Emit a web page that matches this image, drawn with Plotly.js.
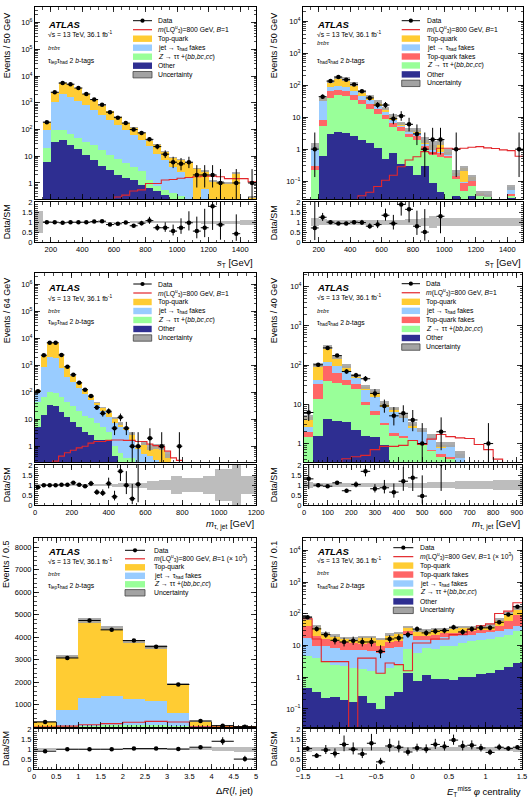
<!DOCTYPE html>
<html><head><meta charset="utf-8">
<script src="https://cdn.plot.ly/plotly-3.0.1.min.js"></script>
<style>html,body{margin:0;padding:0;background:#fff}#chart{width:530px;height:804px}</style>
</head><body><div id="chart"></div>
<script>
// ================= DATA =================
// Panel 1: s_T, tau_lep tau_had, 2 b-tags. Bins of 50 GeV from 100 to 1500.
const p1_binLo = 100, p1_binW = 50;
const p1_data  = [0, 190, 2500, 5500, 5000, 3600, 2150, 1330, 850, 450, 280, 175, 100, 75, 43, 23, 12, 6, 5.2, 6, 2, 2, 2, 1, 0, 1, 0, 1];
const p1_other = [0, 6, 35, 40, 26, 18, 11, 7, 4.4, 3.1, 2, 1.5, 1.25, 0.85, 0.65, 0.5, 0.37, 0, 0, 0, 0, 0, 0, 0, 0, 0, 0, 0];
const p1_ztt   = [0, 21, 100, 100, 71, 50, 35, 26, 17, 11, 7.7, 5.5, 3.9, 2.7, 1.3, 0.8, 0.57, 0.43, 0.32, 0, 0, 0, 0, 0, 0, 0, 0, 0];
const p1_jet   = [0, 100, 1050, 2150, 1700, 1150, 800, 520, 340, 220, 145, 95, 62, 40, 24, 12, 7, 4, 2.5, 1.5, 0, 0.6, 0, 0, 0, 0, 0, 0];
const p1_top   = [0, 190, 2500, 5700, 5000, 3600, 2150, 1300, 820, 500, 300, 178, 120, 78, 40, 28, 15, 9, 7.5, 6, 3.5, 2.8, 1.2, 1.1, 1.0, 2.4, 0, 0.3];
const p1_sig   = [0, 0, 0, 0, 0, 0, 0, 0, 0, 0, 0.3, 0.35, 0.5, 0.55, 0.95, 0.95, 1.3, 1.35, 1.5, 1.6, 1.7, 1.8, 1.8, 1.7, 1.45, 1.45, 1.45, 1.1];
const p1_ratio = [null, 1.0, 1.0, 0.97, 1.0, 1.0, 1.0, 1.03, 1.05, 0.88, 0.92, 0.98, 0.82, 0.95, 1.08, 0.72, 0.72, 0.55, 0.72, 0.97, 0.55, 0.72, 1.8, 0.87, null, 0.42, null, null];
const p1_unc   = [0.55, 0.04, 0.03, 0.03, 0.03, 0.03, 0.03, 0.03, 0.03, 0.03, 0.03, 0.03, 0.04, 0.04, 0.04, 0.05, 0.06, 0.06, 0.06, 0.06, 0.06, 0.07, 0.07, 0.07, 0.07, 0.08, 0.12, 0.12];

// Panel 2: s_T, tau_had tau_had, 2 b-tags. Bins of 50 GeV from 100 to 1500.
const p2_binLo = 100, p2_binW = 50;
const p2_data    = [0, 1, 44, 135, 180, 150, 105, 65, 40, 24, 24, 9, 11, 6, 3, 1, 2, 2, 0, 1, 0, 0, 0, 0, 0, 0, 0, 1];
const p2_other   = [0, 0, 0.6, 3.0, 3.4, 3.2, 2.5, 2.0, 1.6, 1.1, 0.5, 0.75, 0.35, 0.3, 0.15, 0.3, 0.09, 0.045, 0, 0.035, 0, 0.035, 0, 0, 0, 0, 0.03, 0];
const p2_ztt     = [0, 0.22, 5.2, 38.7, 50.6, 47, 35, 25.5, 18.6, 12.3, 8.5, 5.0, 3.8, 2.4, 1.98, 0.91, 0.66, 0.58, 0.52, 0.12, 0.05, 0.07, 0.035, 0.035, 0, 0, 0.035, 0];
const p2_topfake = [0, 0.30, 8.1, 66, 71, 67.7, 49.3, 35, 25.5, 17.7, 12, 6.5, 4.8, 3.0, 2.65, 1.28, 0.84, 0.75, 0.61, 0.14, 0.09, 0.1, 0.04, 0.038, 0, 0, 0.04, 0];
const p2_jet     = [0, 1.28, 32.6, 88.5, 97.6, 90.7, 67.7, 47, 35, 22.6, 15, 8, 5.2, 3.4, 3.2, 1.48, 0.91, 0.84, 0.71, 0.16, 0.095, 0.11, 0.04, 0.04, 0, 0, 0.065, 0];
const p2_top     = [0, 1.28, 38.7, 131, 175, 159, 110, 64, 44.7, 30.3, 19, 11, 6.5, 4.0, 3.9, 1.98, 1.37, 1.63, 0.84, 0.18, 0.25, 0.13, 0.042, 0.04, 0, 0, 0.065, 0];
const p2_sig     = [0, 0, 0, 0, 0, 0, 0, 0.035, 0.045, 0.068, 0.106, 0.153, 0.28, 0.46, 0.58, 0.84, 0.75, 1.07, 1.07, 1.0, 1.07, 1.15, 1.2, 1.1, 1.05, 0.95, 0.9, 0.6];
const p2_ratio   = [null, 0.71, 1.25, 1.0, 0.94, 0.94, 1.0, 0.98, 0.8, 0.88, 1.35, 0.94, 1.9, 1.65, 0.8, 0.5, null, 1.3, null, null, null, null, null, null, null, null, null, null];
const p2_unc     = [0, 0.2, 0.14, 0.12, 0.12, 0.12, 0.12, 0.12, 0.12, 0.13, 0.13, 0.13, 0.13, 0.14, 0.14, 0.2, 0.3, 0.2, 0.2, 0.2, 0.2, 0.2, 0.2, 0.2, 0.2, 0.2, 0.2, 0.2];

// Panel 3: m_tau,jet, tau_lep tau_had. Bins of 32 GeV from 0 to 800.
const p3_binLo = 0, p3_binW = 32;
const p3_data  = [110, 2400, 6900, 6900, 2450, 890, 455, 225, 125, 73, 27.5, 16.6, 20, 4.7, 11.8, 4.7, 1, 1, 0, 2, 0, 1, 0, 0, 1];
const p3_other = [5, 14, 33, 31, 19, 12, 8.2, 5.4, 3.5, 2.7, 1.75, 1.66, 1.5, 0.43, 0, 0, 0, 0, 0, 0, 0, 0, 0, 0, 0];
const p3_ztt   = [44, 68, 103, 95, 68, 44, 31, 21, 13, 11, 7.1, 5.1, 3.5, 1.0, 0.57, 0.37, 0.37, 0, 0, 0, 0, 0, 0, 0, 0];
const p3_jet   = [103, 890, 1970, 1850, 800, 385, 240, 148, 89, 54, 33, 20, 12.5, 7.5, 5.4, 4.1, 1.5, 0.8, 0.5, 0.45, 0.3, 0, 0, 0, 0];
const p3_top   = [120, 2400, 6900, 6900, 2450, 890, 415, 225, 130, 68, 42, 27, 18.5, 11, 7, 4.7, 3.1, 1.0, 1.3, 0.9, 1.0, 1.0, 0.5, 0, 0];
const p3_sig   = [0, 0, 0, 0.28, 0.43, 0.57, 0.71, 0.87, 1.0, 1.3, 1.5, 1.5, 1.65, 1.7, 1.7, 1.65, 1.65, 1.5, 1.5, 1.2, 1.05, 0.95, 0.66, 0.37, 0.3];
const p3_ratio = [0.9, 1.0, 1.0, 1.0, 1.02, 1.02, 1.12, 1.02, 0.95, 1.08, 0.65, 0.6, 1.08, 0.42, 1.7, 1.0, 0.32, 1.05, null, null, null, null, null, null, null];
const p3_unc   = [0.06, 0.04, 0.04, 0.04, 0.04, 0.04, 0.04, 0.05, 0.05, 0.05, 0.05, 0.05, 0.06, 0.08, 0.1, 0.1, 0.12, 0.12, 0.12, 0.22, 0.22, 0.25, 0.25, 0.45, 0.45];
const p3_bandEdges = [0, 416, 448, 480, 512, 544, 576, 608, 672, 736, 800, 912, 976, 1072, 1120, 1200];
const p3_bandHalf  = [0.05, 0.08, 0.1, 0.1, 0.12, 0.12, 0.12, 0.22, 0.25, 0.45, 0.35, 0.45, 0.8, 1.0, 0.45];

// Panel 4: m_tau,jet, tau_had tau_had. Bins of 40 GeV from 0 to 920.
const p4_binLo = 0, p4_binW = 40;
const p4_data    = [6.2, 102, 275, 175, 69, 55, 45, 19, 9.1, 5.1, 5.9, 4.0, 1, 0, 2.0, 0, 0, 0, 0, 1, 0, 0, 0];
const p4_other   = [0, 1.53, 4.3, 3.8, 3.45, 2.25, 1.53, 1.45, 0.94, 0, 0, 0, 0, 0, 0, 0, 0, 0, 0, 0, 0, 0, 0];
const p4_ztt     = [1.5, 14, 40, 36, 32, 24, 9.5, 5.5, 2.9, 1.6, 1.35, 1.15, 0.95, 0.65, 0.45, 0.4, 0, 0, 0, 0, 0, 0, 0];
const p4_topfake = [2.0, 34, 93, 63, 43, 33, 11.7, 6.9, 3.3, 1.86, 1.53, 1.26, 1.04, 0.7, 0.55, 0.45, 0, 0, 0, 0, 0, 0, 0];
const p4_jet     = [2.7, 43, 120, 93, 66, 47, 23.9, 15, 8.7, 6.5, 4.4, 2.5, 2.25, 1.5, 0.78, 0.94, 0.53, 0, 0, 0, 0, 0, 0];
const p4_top     = [4.7, 102, 290, 158, 95, 54, 27.9, 22, 10.8, 7.9, 5.1, 3.2, 2.25, 1.5, 0.94, 0.94, 0.53, 0, 0, 0, 0, 0, 0];
const p4_sig     = [0, 0, 0, 0, 0.41, 0.46, 0.5, 0.7, 0.85, 0.85, 0.9, 1.2, 0.95, 1.3, 1.7, 1.5, 1.4, 1.35, 0.95, 0.7, 0.4, 0, 0];
const p4_ratio   = [1.32, 1.0, 0.95, 1.12, 0.72, 1.03, 1.7, 0.82, 0.87, 0.65, 1.2, 1.37, 0.45, null, 2.1, null, null, null, null, null, null, null, null];
const p4_unc     = [0.15, 0.1, 0.1, 0.1, 0.1, 0.1, 0.1, 0.1, 0.1, 0.1, 0.1, 0.12, 0.13, 0.15, 0.15, 0.15, 0.2, 0.2, 0.2, 0.2, 0.25, 0.25, 0.25];

// Panel 5: DeltaR(l, jet), tau_lep tau_had. Bins of 0.5 from 0 to 5 (linear scale).
const p5_binLo = 0, p5_binW = 0.5;
const p5_data  = [224, 3075, 4746, 4328, 3850, 3580, 1895, 270, 60, 15];
const p5_ztt   = [5, 30, 50, 70, 80, 80, 60, 5, 0, 0];
const p5_jet   = [20, 776, 1313, 1390, 1240, 1164, 627, 40, 10, 3];
const p5_top   = [245, 3150, 4750, 4420, 3820, 3560, 1920, 250, 50, 30];
const p5_sig   = [0, 40, 100, 150, 210, 250, 220, 5, 0, 0];   // signal x 10^3
const p5_ratio = [0.9, 1.0, 1.0, 1.0, 1.03, 1.03, 1.01, 1.1, 1.4, 0.5];
const p5_unc   = [0.04, 0.02, 0.02, 0.02, 0.02, 0.02, 0.02, 0.04, 0.1, 0.13];

// Panel 6: E_T^miss phi centrality, tau_had tau_had. Bins of 0.125 from -1.5 to 1.5.
const p6_binLo = -1.5, p6_binW = 0.125;
const p6_data    = [78, 33.4, 22, 14.6, 12.9, 14.2, 12.9, 12.9, 6.5, 16, 17.3, 22, 33, 25, 28, 29.5, 37.8, 26.8, 33, 36, 36, 54, 95, 167];
const p6_other   = [0.45, 0.35, 0.22, 0.23, 0.19, 0.17, 0.25, 0.15, 0.1, 0.25, 0.35, 1.35, 0.75, 1.2, 0.85, 0.85, 0.8, 1.0, 1.05, 1.25, 1.4, 1.7, 2.1, 2.8];
const p6_ztt     = [4.8, 3.9, 3.0, 2.4, 2.2, 1.9, 1.8, 1.6, 1.35, 1.9, 2.4, 7.5, 6, 8.5, 8, 9.4, 10, 12, 13.5, 14.6, 16, 18.6, 22, 28];
const p6_jet     = [17, 9.5, 9.5, 8.3, 7.4, 7.4, 7.0, 6.5, 5.8, 8.3, 8.8, 21, 15, 15, 15, 19, 20, 21, 22, 24, 26, 28, 32, 40];
const p6_topfake = [40.6, 19.5, 16, 13.5, 12.6, 12, 11.4, 12, 9.9, 12.6, 13.5, 28, 20.5, 20.5, 22, 25, 25, 26, 28, 30, 31.8, 42.6, 58.5, 95];
const p6_top     = [75, 40, 25, 20.5, 17.3, 16.5, 18.6, 18.6, 16, 22, 25, 38.6, 30, 30, 33.4, 33.4, 36, 38.6, 38.6, 40.6, 42.6, 66, 102, 155];
const p6_sig     = [70, 16, 3.1, 3.1, 3.1, 0, 4, 4, 1.34, 2.8, 2.5, 1.6, 12, 12, 16, 16, 22, 22, 32, 42, 48, 102, 121, 223]; // x 10^3
const p6_ratio   = [1.03, 0.67, 0.96, 0.78, 1.24, 1.0, 0.76, 1.3, 0.36, 1.16, 1.1, 0.86, 1.06, 1.0, 1.24, 1.14, 1.46, 1.16, 1.2, 1.06, 0.84, 1.1, 1.03, 1.1];
const p6_unc     = [0.12, 0.1, 0.1, 0.1, 0.1, 0.1, 0.1, 0.1, 0.1, 0.1, 0.1, 0.1, 0.1, 0.1, 0.1, 0.1, 0.1, 0.1, 0.1, 0.1, 0.1, 0.1, 0.1, 0.12];

// Tick labels
const logVals = [0.1, 1, 10, 100, 1e3, 1e4, 1e5, 1e6];
const logText = ['10<sup>\u22121</sup>', '1', '10', '10<sup>2</sup>', '10<sup>3</sup>', '10<sup>4</sup>', '10<sup>5</sup>', '10<sup>6</sup>'];
const ratioVals = [0, 0.5, 1, 1.5, 2];
const ratioText = ['0', '0.5', '1', '1.5', '2'];
const p5_yVals = [1000, 2000, 3000, 4000, 5000, 6000, 7000, 8000];
const p5_yText = ['1000', '2000', '3000', '4000', '5000', '6000', '7000', '8000'];
const p12_xVals = [200, 400, 600, 800, 1000, 1200, 1400];
const p3_xVals = [0, 200, 400, 600, 800, 1000, 1200];
const p4_xVals = [0, 100, 200, 300, 400, 500, 600, 700, 800, 900];
const p5_xVals = [0, 0.5, 1, 1.5, 2, 2.5, 3, 3.5, 4, 4.5, 5];
const p5_xText = ['0', '0.5', '1', '1.5', '2', '2.5', '3', '3.5', '4', '4.5', '5'];
const p6_xVals = [-1.5, -1, -0.5, 0, 0.5, 1, 1.5];
const p6_xText = ['\u22121.5', '\u22121', '\u22120.5', '0', '0.5', '1', '1.5'];

// Legend labels
const L_data = 'Data';
const L_sig = '<i>m</i>(LQ<sup>u</sup><sub>3</sub>)=800 GeV, <i>B</i>=1';
const L_sig3 = L_sig + ' (\u00d7 10<sup>3</sup>)';
const L_top = 'Top-quark';
const L_jet = 'jet \u2192 \u03c4<sub>had</sub> fakes';
const L_topfake = 'Top-quark fakes';
const L_ztt = '<i>Z</i> \u2192 \u03c4\u03c4 +(<i>bb</i>,<i>bc</i>,<i>cc</i>)';
const L_other = 'Other';
const L_unc = 'Uncertainty';

// ================= STYLE / GEOMETRY =================
const W = 530, H = 804;
const fx = v => v / W, fy = v => 1 - v / H;
const C = {top:'#ffcc33', jet:'#99ccff', topfake:'#ff6666', ztt:'#99ff99', other:'#2e2e91',
           sig:'#e3262b', unc:'#a3a3a3', band:'#bdbdbd'};
const FONT = 'Liberation Sans, Arial, Helvetica, sans-serif';

function centers(lo, w, n) { const a = []; for (let i = 0; i < n; i++) a.push(lo + w * (i + 0.5)); return a; }
function edgesOf(lo, w, n) { const a = []; for (let i = 0; i <= n; i++) a.push(lo + w * i); return a; }
function poisUp(n) { return Math.sqrt(n + 0.75) + 1; }
function poisDn(n) { return Math.min(n * 0.999, Math.sqrt(Math.max(n - 0.25, 0))); }

const panels = [
  {lo:p1_binLo, w:p1_binW, data:p1_data, sig:p1_sig, ratio:p1_ratio, unc:p1_unc, log:true,
   layers:[[p1_top,C.top],[p1_jet,C.jet],[p1_ztt,C.ztt],[p1_other,C.other]],
   xr:[100,1500], yr:[-0.6,6.59], xd:p12_xVals, xt:p12_xVals.map(String), xm:50, yv:logVals, yt:logText,
   box:[35,256,7,199,202,242],
   atlas:[45.7,24.3], sq:[45.7,34.3], bt:[45.7,47.7], ch:[45.7,61], chText:'\u03c4<sub>lep</sub>\u03c4<sub>had</sub> 2 <i>b</i>-tags',
   ytitle:'Events / 50 GeV', ytp:[7.3,10], rtp:[7.3,222], xtitle:'<i>s</i><sub>T</sub> [GeV]', xtp:[255,263],
   leg:{y0:20.7, dy:9, sx0:133, sx1:152, tx:156, items:[['data',L_data],['line',L_sig],['box',L_top,C.top],['box',L_jet,C.jet],['box',L_ztt,C.ztt],['box',L_other,C.other],['unc',L_unc]]}},
  {lo:p2_binLo, w:p2_binW, data:p2_data, sig:p2_sig, ratio:p2_ratio, unc:p2_unc, log:true,
   layers:[[p2_top,C.top],[p2_jet,C.jet],[p2_topfake,C.topfake],[p2_ztt,C.ztt],[p2_other,C.other]],
   xr:[100,1500], yr:[-1.56,4.45], xd:p12_xVals, xt:p12_xVals.map(String), xm:50, yv:logVals, yt:logText,
   box:[303,523,7,199,202,242],
   atlas:[315,24.3], sq:[315,34.3], bt:[315,43.3], ch:[315,60.7], chText:'\u03c4<sub>had</sub>\u03c4<sub>had</sub> 2 <i>b</i>-tags',
   ytitle:'Events / 50 GeV', ytp:[274.3,10], rtp:[274.3,223], xtitle:'<i>s</i><sub>T</sub> [GeV]', xtp:[523,263.3],
   leg:{y0:20.7, dy:8.95, sx0:401.7, sx1:420, tx:425, items:[['data',L_data],['line',L_sig],['box',L_top,C.top],['box',L_jet,C.jet],['box',L_topfake,C.topfake],['box',L_ztt,C.ztt],['box',L_other,C.other],['unc',L_unc]]}},
  {lo:p3_binLo, w:p3_binW, data:p3_data, sig:p3_sig, ratio:p3_ratio, unc:p3_unc, log:true,
   bandEdges:p3_bandEdges, bandHalf:p3_bandHalf,
   layers:[[p3_top,C.top],[p3_jet,C.jet],[p3_ztt,C.ztt],[p3_other,C.other]],
   xr:[0,1200], yr:[-0.585,6.43], xd:p3_xVals, xt:p3_xVals.map(String), xm:50, yv:logVals, yt:logText,
   box:[35,256,273,462,465,505],
   atlas:[45.7,287.3], sq:[45.7,298], bt:[45.7,310.7], ch:[45.7,322.3], chText:'\u03c4<sub>lep</sub>\u03c4<sub>had</sub> 2 <i>b</i>-tags',
   ytitle:'Events / 64 GeV', ytp:[7.3,275], rtp:[7.3,485], xtitle:'<i>m</i><sub>\u03c4, jet</sub> [GeV]', xtp:[256,524.7],
   leg:{y0:284, dy:9, sx0:133.3, sx1:151.7, tx:156, items:[['data',L_data],['line',L_sig],['box',L_top,C.top],['box',L_jet,C.jet],['box',L_ztt,C.ztt],['box',L_other,C.other],['unc',L_unc]]}},
  {lo:p4_binLo, w:p4_binW, data:p4_data, sig:p4_sig, ratio:p4_ratio, unc:p4_unc, log:true,
   layers:[[p4_top,C.top],[p4_jet,C.jet],[p4_topfake,C.topfake],[p4_ztt,C.ztt],[p4_other,C.other]],
   xr:[0,922], yr:[-0.47,4.35], xd:p4_xVals, xt:p4_xVals.map(String), xm:20, yv:logVals, yt:logText,
   box:[304,522,273,462,465,505],
   atlas:[315,287.3], sq:[315,297.3], bt:[315,311.3], ch:[315,323], chText:'\u03c4<sub>had</sub>\u03c4<sub>had</sub> 2 <i>b</i>-tags',
   ytitle:'Events / 40 GeV', ytp:[274.3,275], rtp:[274.3,485], xtitle:'<i>m</i><sub>\u03c4, jet</sub> [GeV]', xtp:[521.7,524.7],
   leg:{y0:283.7, dy:9.05, sx0:401.7, sx1:420, tx:424.3, items:[['data',L_data],['line',L_sig],['box',L_top,C.top],['box',L_jet,C.jet],['box',L_topfake,C.topfake],['box',L_ztt,C.ztt],['box',L_other,C.other],['unc',L_unc]]}},
  {lo:p5_binLo, w:p5_binW, data:p5_data, sig:p5_sig, ratio:p5_ratio, unc:p5_unc, log:false,
   layers:[[p5_top,C.top],[p5_jet,C.jet],[p5_ztt,C.ztt]],
   xr:[0,5], yr:[0,8420], xd:p5_xVals, xt:p5_xText, xm:0.1, yv:p5_yVals, yt:p5_yText, ymin:200,
   box:[34,256,538,727,729,769],
   atlas:[45.7,551], sq:[45.7,561], bt:[45.7,574.3], ch:[45.7,586], chText:'\u03c4<sub>lep</sub>\u03c4<sub>had</sub> 2 <i>b</i>-tags',
   ytitle:'Events / 0.5', ytp:[6,538], rtp:[6,749], xtitle:'\u0394<i>R</i>(<i>l</i>, jet)', xtp:[255,790],
   leg:{y0:550.3, dy:8.5, sx0:125, sx1:145, tx:151.7, items:[['data',L_data],['line',L_sig3],['box',L_top,C.top],['box',L_jet,C.jet],['box',L_ztt,C.ztt],['unc',L_unc]]}},
  {lo:p6_binLo, w:p6_binW, data:p6_data, sig:p6_sig, ratio:p6_ratio, unc:p6_unc, log:true,
   layers:[[p6_top,C.top],[p6_topfake,C.topfake],[p6_jet,C.jet],[p6_ztt,C.ztt],[p6_other,C.other]],
   xr:[-1.5,1.5], yr:[-1.57,4.39], xd:p6_xVals, xt:p6_xText, xm:0.1, yv:logVals, yt:logText,
   box:[303,522,538,727,729,769],
   atlas:[315,551], sq:[315,560], bt:[315,573.3], ch:[315,586], chText:'\u03c4<sub>had</sub>\u03c4<sub>had</sub> 2 <i>b</i>-tags',
   ytitle:'Events / 0.1', ytp:[274.3,538], rtp:[274.3,749], xtitle:'<i>E</i><sub>T</sub><sup>miss</sup> <i>\u03c6</i> centrality', xtp:[523.3,791],
   leg:{y0:547.7, dy:8.95, sx0:393.3, sx1:413.3, tx:418.3, items:[['data',L_data],['line',L_sig3],['box',L_top,C.top],['box',L_topfake,C.topfake],['box',L_jet,C.jet],['box',L_ztt,C.ztt],['box',L_other,C.other],['unc',L_unc]]}}
];

const traces = [], annotations = [], shapes = [];
const layout = {width:W, height:H, margin:{l:0,r:0,t:0,b:0}, paper_bgcolor:'#fff', plot_bgcolor:'#fff',
  showlegend:false, barmode:'overlay', bargap:0, font:{family:FONT, size:7.5, color:'#000'}};

function axBase() {
  return {showline:true, linecolor:'#000', linewidth:1, mirror:'allticks', ticks:'inside', ticklen:5,
          tickwidth:0.8, tickcolor:'#000', zeroline:false, showgrid:false, fixedrange:true,
          tickfont:{family:FONT, size:7.5, color:'#000'}};
}
function minorBase(dt) { return {ticks:'inside', ticklen:2.5, tickwidth:0.7, tickcolor:'#000', dtick:dt, showgrid:false}; }
function ann(text, x, y, o) {
  annotations.push(Object.assign({text:text, x:fx(x), y:fy(y), xref:'paper', yref:'paper', showarrow:false,
    xanchor:'left', yanchor:'middle', font:{family:FONT, size:6.8, color:'#000'}}, o || {}));
}

panels.forEach((P, k) => {
  const im = 2 * k + 1, ir = 2 * k + 2;
  const xm = im === 1 ? 'x' : 'x' + im, ym = im === 1 ? 'y' : 'y' + im;
  const xr = 'x' + ir, yr = 'y' + ir;
  const n = P.data.length;
  const cx = centers(P.lo, P.w, n), ed = edgesOf(P.lo, P.w, n);
  const [bx0, bx1, my0, my1, ry0, ry1] = P.box;
  const common = {hoverinfo:'skip', showlegend:false};

  // stacked backgrounds (cumulative tops, drawn from the top layer down)
  P.layers.forEach(([vals, col]) => {
    traces.push(Object.assign({type:'bar', x:cx, y:vals.map(v => v > 0 ? v : null), width:P.w,
      marker:{color:col, line:{width:0}}, xaxis:xm, yaxis:ym}, common));
  });
  // uncertainty band on total
  const tot = P.layers[0][0];
  traces.push(Object.assign({type:'bar', x:cx, width:P.w,
    base:tot.map((t, i) => t > 0 ? t * (1 - P.unc[i]) : null),
    y:tot.map((t, i) => t > 0 ? 2 * t * P.unc[i] : null),
    marker:{color:C.unc, opacity:0.9, line:{width:0}}, xaxis:xm, yaxis:ym}, common));
  // signal step line
  const sy = P.sig.concat([P.sig[P.sig.length - 1]]).map(v => (P.log && v <= 0) ? 1e-6 : v);
  traces.push(Object.assign({type:'scatter', mode:'lines', x:ed, y:sy, line:{shape:'hv', color:C.sig, width:1.1},
    xaxis:xm, yaxis:ym}, common));
  // data points
  const di = [];
  P.data.forEach((v, i) => { if (v > 0) di.push(i); });
  traces.push(Object.assign({type:'scatter', mode:'markers', x:di.map(i => cx[i]), y:di.map(i => P.data[i]),
    marker:{size:4.5, color:'#000'},
    error_y:{type:'data', symmetric:false, array:di.map(i => poisUp(P.data[i])), arrayminus:di.map(i => poisDn(P.data[i])),
             thickness:1, width:0, color:'#000'},
    error_x:{type:'constant', value:P.w / 2, thickness:1, width:0, color:'#000'}, xaxis:xm, yaxis:ym}, common));

  // ratio band
  let bxs, bws, bhs;
  if (P.bandEdges) {
    bxs = []; bws = [];
    for (let i = 0; i < P.bandHalf.length; i++) {
      bxs.push((P.bandEdges[i] + P.bandEdges[i + 1]) / 2); bws.push(P.bandEdges[i + 1] - P.bandEdges[i]);
    }
    bhs = P.bandHalf;
  } else { bxs = cx; bws = P.w; bhs = P.unc; }
  traces.push(Object.assign({type:'bar', x:bxs, width:bws, base:bhs.map(h => h > 0 ? 1 - h : null),
    y:bhs.map(h => h > 0 ? 2 * h : null), marker:{color:C.band, line:{width:0}}, xaxis:xr, yaxis:yr}, common));
  // ratio points
  const ri = [];
  P.ratio.forEach((v, i) => { if (v !== null && P.data[i] > 0) ri.push(i); });
  traces.push(Object.assign({type:'scatter', mode:'markers', x:ri.map(i => cx[i]), y:ri.map(i => P.ratio[i]),
    marker:{size:4.5, color:'#000'},
    error_y:{type:'data', symmetric:false,
             array:ri.map(i => P.ratio[i] * poisUp(P.data[i]) / P.data[i]),
             arrayminus:ri.map(i => P.ratio[i] * poisDn(P.data[i]) / P.data[i]),
             thickness:1, width:0, color:'#000'},
    error_x:{type:'constant', value:P.w / 2, thickness:1, width:0, color:'#000'}, xaxis:xr, yaxis:yr}, common));

  // axes
  const xKeyM = 'xaxis' + (im === 1 ? '' : im), yKeyM = 'yaxis' + (im === 1 ? '' : im);
  layout[xKeyM] = Object.assign(axBase(), {domain:[fx(bx0), fx(bx1)], range:P.xr, anchor:ym, showticklabels:false,
    tickmode:'array', tickvals:P.xd, ticktext:P.xt, minor:minorBase(P.xm)});
  const yM = Object.assign(axBase(), {domain:[fy(my1), fy(my0)], anchor:xm, tickmode:'array', tickvals:P.yv, ticktext:P.yt});
  if (P.log) { yM.type = 'log'; yM.range = P.yr; yM.minor = minorBase('D1'); }
  else { yM.type = 'linear'; yM.range = P.yr; yM.minor = minorBase(P.ymin); }
  layout[yKeyM] = yM;
  layout['xaxis' + ir] = Object.assign(axBase(), {domain:[fx(bx0), fx(bx1)], range:P.xr, anchor:yr,
    tickmode:'array', tickvals:P.xd, ticktext:P.xt, minor:minorBase(P.xm)});
  layout['yaxis' + ir] = Object.assign(axBase(), {domain:[fy(ry1), fy(ry0)], range:[0, 2.02], anchor:xr,
    tickmode:'array', tickvals:ratioVals, ticktext:ratioText, ticklen:4, minor:minorBase(0.1)});

  // texts
  ann('<b><i>ATLAS</i></b>', P.atlas[0], P.atlas[1], {font:{family:FONT, size:9.5, color:'#000'}});
  ann('\u221as = 13 TeV, 36.1 fb<sup>-1</sup>', P.sq[0], P.sq[1]);
  ann('<i>b\u03c4b\u03c4</i>', P.bt[0], P.bt[1], {font:{family:'Liberation Serif, Times New Roman, serif', size:7, color:'#000'}});
  ann(P.chText, P.ch[0], P.ch[1]);
  ann(P.ytitle, P.ytp[0], P.ytp[1], {textangle:-90, xanchor:'center', yanchor:'top', font:{family:FONT, size:9, color:'#000'}});
  ann('Data/SM', P.rtp[0], P.rtp[1], {textangle:-90, xanchor:'center', yanchor:'middle', font:{family:FONT, size:9, color:'#000'}});
  ann(P.xtitle, P.xtp[0], P.xtp[1], {xanchor:'right', yanchor:'middle', font:{family:FONT, size:9.5, color:'#000'}});

  // legend (drawn by hand to match the compact ATLAS layout)
  const Lg = P.leg;
  Lg.items.forEach((it, j) => {
    const yc = Lg.y0 + j * Lg.dy;
    const kind = it[0];
    if (kind === 'data') {
      shapes.push({type:'line', xref:'paper', yref:'paper', x0:fx(Lg.sx0), x1:fx(Lg.sx1), y0:fy(yc), y1:fy(yc), line:{color:'#000', width:1}});
      const xm2 = (Lg.sx0 + Lg.sx1) / 2;
      shapes.push({type:'circle', xref:'paper', yref:'paper', x0:fx(xm2 - 2.1), x1:fx(xm2 + 2.1), y0:fy(yc + 2.1), y1:fy(yc - 2.1), fillcolor:'#000', line:{color:'#000', width:0}});
    } else if (kind === 'line') {
      shapes.push({type:'line', xref:'paper', yref:'paper', x0:fx(Lg.sx0), x1:fx(Lg.sx1), y0:fy(yc), y1:fy(yc), line:{color:C.sig, width:1.2}});
    } else if (kind === 'box') {
      shapes.push({type:'rect', xref:'paper', yref:'paper', x0:fx(Lg.sx0), x1:fx(Lg.sx1), y0:fy(yc + 3.2), y1:fy(yc - 3.2), fillcolor:it[2], line:{width:0}});
    } else {
      shapes.push({type:'rect', xref:'paper', yref:'paper', x0:fx(Lg.sx0), x1:fx(Lg.sx1), y0:fy(yc + 3.2), y1:fy(yc - 3.2), fillcolor:C.unc, line:{color:'#444', width:0.8}});
    }
    ann(it[1], Lg.tx, yc);
  });
});

layout.annotations = annotations;
layout.shapes = shapes;
Plotly.newPlot('chart', traces, layout, {staticPlot:true, displayModeBar:false});
</script>
</body></html>
